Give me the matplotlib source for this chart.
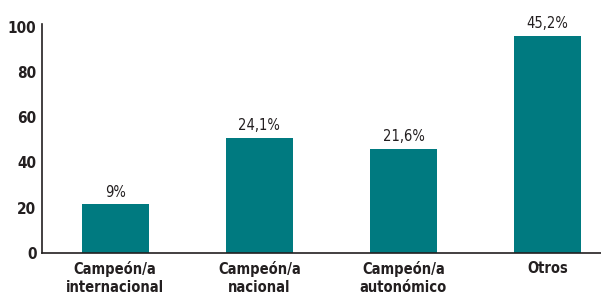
import matplotlib
matplotlib.use("Agg")
import matplotlib.pyplot as plt

categorias = ["Campeón/a\ninternacional", "Campeón/a\nnacional", "Campeón/a\nautonómico", "Otros"]
valores = [21.5, 51, 46, 96]
etiquetas = ["9%", "24,1%", "21,6%", "45,2%"]

plt.rcParams["font.family"] = ["DejaVu Sans"]
plt.rcParams["font.stretch"] = "condensed"

figura = plt.figure(figsize=(6.01, 2.94), dpi=100)
eixo = figura.add_axes([0.0699, 0.1395, 0.9301, 0.7775])

posicoes = range(len(categorias))
barras = eixo.bar(posicoes, valores, width=0.465, color="#007a80")

for barra, rotulo in zip(barras, etiquetas):
    eixo.text(barra.get_x() + barra.get_width() / 2, barra.get_height() + 2, rotulo,
              ha="center", va="bottom", fontsize=10.5, color="#231f20")

eixo.set_xlim(-0.507, 3.37)
eixo.set_ylim(0, 101)
eixo.set_yticks([0, 20, 40, 60, 80, 100])
eixo.set_xticks(list(posicoes))
eixo.set_xticklabels(categorias, fontsize=10.5, fontweight="bold", color="#231f20", linespacing=1.2)
eixo.tick_params(axis="y", length=0, labelsize=11, colors="#231f20", pad=4)
eixo.tick_params(axis="x", length=0, colors="#231f20", pad=6)
for t in eixo.get_yticklabels():
    t.set_fontweight("bold")

eixo.spines["top"].set_visible(False)
eixo.spines["right"].set_visible(False)
for lado in ["left", "bottom"]:
    eixo.spines[lado].set_color("#231f20")
    eixo.spines[lado].set_linewidth(1.2)

figura.savefig("out.png", dpi=100)
